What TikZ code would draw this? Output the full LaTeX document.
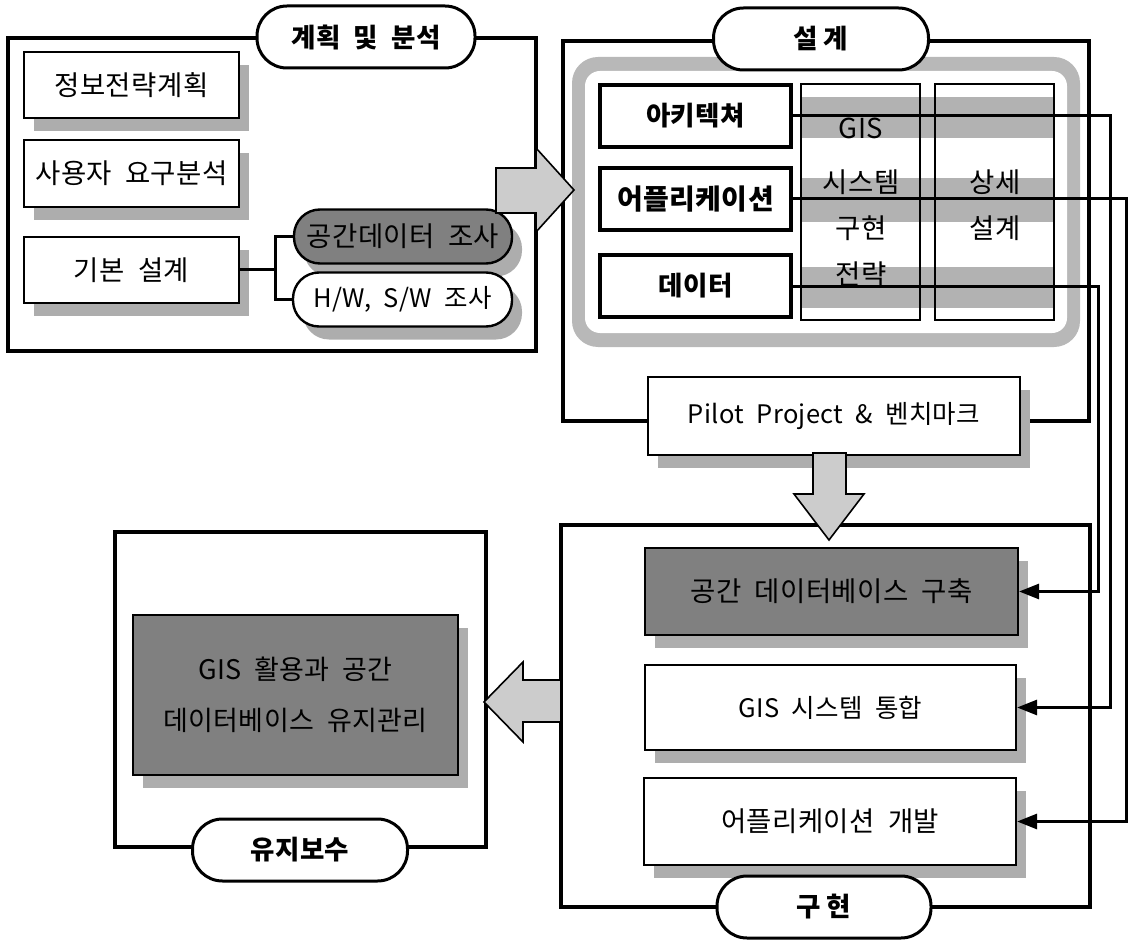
\documentclass[tikz,border=0pt]{standalone}
\usepackage{fontspec}
\setmainfont{Noto Sans CJK KR}[WordSpace=2.0, LetterSpace=1.5]
\usetikzlibrary{arrows.meta,shadows}
\definecolor{shadowc}{gray}{0.68}
\definecolor{darkc}{gray}{0.50}
\definecolor{ringc}{gray}{0.72}
\definecolor{stripec}{gray}{0.70}
\definecolor{arrowc}{gray}{0.80}
\begin{document}
\begin{tikzpicture}[x=1pt,y=-1pt,
  txt/.style={font=\fontsize{27.5}{32}\selectfont},
  txs/.style={font=\fontsize{25.5}{30}\selectfont},
  bt/.style={font=\bfseries\fontsize{26.5}{31}\selectfont},
  frame/.style={draw, line width=3.2pt},
  box/.style={draw, line width=2.2pt, fill=white, inner sep=0pt, txt},
  shd/.style={drop shadow={shadow xshift=10pt, shadow yshift=-13pt, fill=shadowc, opacity=1}},
  sbox/.style={box, shd},
  dbox/.style={sbox, fill=darkc},
  kbox/.style={draw, line width=4pt, fill=white, inner sep=0pt, bt},
  pill/.style={draw, line width=3pt, fill=white, rounded corners=30pt, inner sep=0pt, bt, minimum height=62pt},
  spill/.style={draw, line width=2.4pt, fill=white, rounded corners=26pt, inner sep=0pt, txt, minimum height=54pt, shd},
  conn/.style={line width=3pt, -{Triangle[length=20pt,width=15pt]}},
  link/.style={line width=3pt},
  bigarrow/.style={draw, line width=1.6pt, fill=arrowc, line join=miter}
]
\useasboundingbox (0,0) rectangle (1129,941);

% ---------- frames ----------
\draw[frame] (8,38) rectangle (536,351);
\draw[frame] (563,41) rectangle (1089,421);
\draw[frame] (561,525) rectangle (1090,907);
\draw[frame] (115,532) rectangle (486,847);

% ---------- design ring ----------
\fill[ringc, rounded corners=26pt] (572,57) rectangle (1080,347);
\fill[white, rounded corners=15pt] (585,71) rectangle (1067,333);

% columns with stripes
\fill[white] (801,84) rectangle (920,320);
\fill[white] (935,84) rectangle (1054,320);
\fill[stripec] (801,97) rectangle (1054,138);
\fill[stripec] (801,178) rectangle (1054,222);
\fill[stripec] (801,267) rectangle (1054,308);
\draw[line width=1.6pt] (801,84) rectangle (920,320);
\draw[line width=1.6pt] (935,84) rectangle (1054,320);
\node[txt] (cg1) at (861,128) {GIS};
\node[txt] (cg2) at (861,182) {시스템};
\node[txt] (cg3) at (861,228) {구현};
\node[txt] (cg4) at (861,274) {전략};
\node[txt] (cs1) at (995,182) {상세};
\node[txt] (cs2) at (995,228) {설계};

% ---------- planning ----------
\node[sbox, minimum width=215pt, minimum height=66pt] (b1) at (131.5,85) {정보전략계획};
\node[sbox, minimum width=215pt, minimum height=67pt] (b2) at (131.5,173.5) {사용자 요구분석};
\node[sbox, minimum width=215pt, minimum height=66pt] (b3) at (131.5,270) {기본 설계};
\node[spill, fill=darkc, minimum width=218pt] (p1) at (403,236.5) {공간데이터 조사};
\node[spill, minimum width=219pt, txs] (p2) at (402.5,299.5) {H/W, S/W 조사};
\coordinate (j) at (275,270);
\draw[link] (b3.east) -- (j);
\draw[link] (p1.west) -| (j);
\draw[link] (p2.west) -| (j);

% ---------- design ----------
\node[kbox, minimum width=191pt, minimum height=62pt] (a1) at (695.5,116) {아키텍쳐};
\node[kbox, minimum width=191pt, minimum height=62pt, font=\bfseries\fontsize{28}{32}\selectfont] (a2) at (695.5,199) {어플리케이션};
\node[kbox, minimum width=191pt, minimum height=62pt] (a3) at (695.5,286) {데이터};
\node[sbox, minimum width=372pt, minimum height=78pt, txs] (pp) at (834,416) {Pilot Project \& 벤치마크};

% ---------- implementation ----------
\node[dbox, minimum width=373pt, minimum height=87pt] (g1) at (831.5,591.5) {공간 데이터베이스 구축};
\node[sbox, minimum width=371pt, minimum height=85pt, txs] (g2) at (830.5,707.5) {GIS 시스템 통합};
\node[sbox, minimum width=372pt, minimum height=87pt] (g3) at (830,821.5) {어플리케이션 개발};

% ---------- maintenance ----------
\node[dbox, minimum width=325pt, minimum height=160pt, align=center,
      font=\fontsize{27}{51}\selectfont] (m1) at (295.5,695) {GIS 활용과 공간\\데이터베이스 유지관리};

% ---------- big arrows ----------
\draw[bigarrow] (496,168) -- (536,168) -- (536,148) -- (574,190) -- (536,232) -- (536,213) -- (496,213) -- cycle;
\draw[bigarrow] (813,453) -- (846,453) -- (846,494) -- (864,494) -- (829,540) -- (794,494) -- (813,494) -- cycle;
\draw[bigarrow] (561,680) -- (523,680) -- (523,662) -- (484,702) -- (523,742) -- (523,722) -- (561,722) -- cycle;

% ---------- connectors ----------
\coordinate (va) at (1110,0);
\coordinate (vb) at (1126,0);
\coordinate (vd) at (1098,0);
\draw[conn] (a1.east) -| (va |- g2.east) -- (g2.east);
\draw[conn] (a2.east) -| (vb |- g3.east) -- (g3.east);
\draw[conn] (a3.east) -| (vd |- g1.east) -- (g1.east);

% ---------- titles ----------
\node[pill, minimum width=218pt] (t1) at (366,37) {계획\hspace{0.5em}및\hspace{0.5em}분석};
\node[pill, minimum width=215pt] (t2) at (821,39) {설\hspace{0.2em}계};
\node[pill, minimum width=214pt] (t3) at (824,907) {구\hspace{0.2em}현};
\node[pill, minimum width=215pt] (t4) at (300,850) {유지보수};
\end{tikzpicture}
\end{document}
